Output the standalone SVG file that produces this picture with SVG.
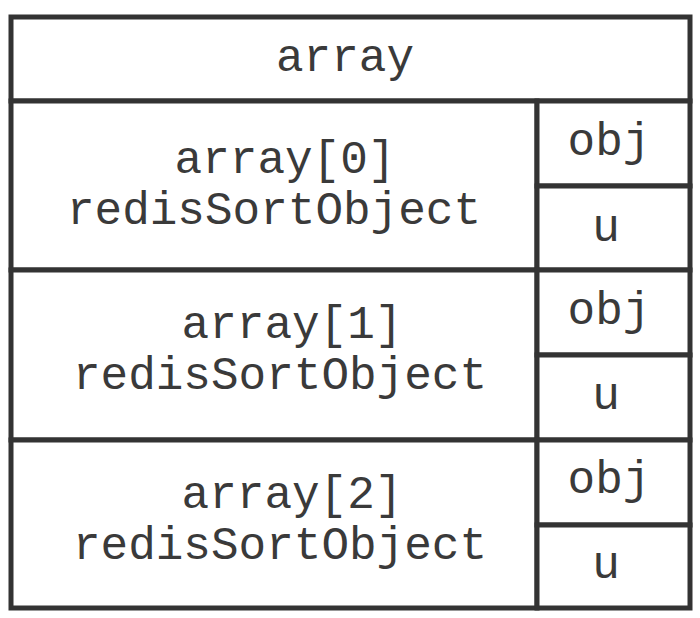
<svg xmlns="http://www.w3.org/2000/svg" width="700" height="618" viewBox="0 0 700 618">
<style>
.cell{fill:#ffffff;stroke:#333333;stroke-width:5}
.t{font-family:"Liberation Mono","Courier New",monospace;font-size:46px;fill:#3a3a3a;text-anchor:middle}
</style>
<rect x="0" y="0" width="700" height="618" fill="#ffffff"/>
<g id="header">
<rect class="cell" x="11" y="17" width="679" height="84"/>
<text class="t" x="345" y="71">array</text>
</g>
<g id="row0">
<rect class="cell" x="11" y="101" width="526" height="169"/>
<text class="t" x="285" y="173">array[0]</text>
<text class="t" x="274" y="224">redisSortObject</text>
</g>
<g id="row0-obj">
<rect class="cell" x="537" y="101" width="153" height="85"/>
<text class="t" x="609" y="155">obj</text>
</g>
<g id="row0-u">
<rect class="cell" x="537" y="186" width="153" height="84"/>
<text class="t" x="606" y="241">u</text>
</g>
<g id="row1">
<rect class="cell" x="11" y="270" width="526" height="170"/>
<text class="t" x="292" y="338">array[1]</text>
<text class="t" x="280" y="389">redisSortObject</text>
</g>
<g id="row1-obj">
<rect class="cell" x="537" y="270" width="153" height="85"/>
<text class="t" x="609" y="324">obj</text>
</g>
<g id="row1-u">
<rect class="cell" x="537" y="355" width="153" height="85"/>
<text class="t" x="606" y="409">u</text>
</g>
<g id="row2">
<rect class="cell" x="11" y="440" width="526" height="168"/>
<text class="t" x="292" y="508">array[2]</text>
<text class="t" x="280" y="559">redisSortObject</text>
</g>
<g id="row2-obj">
<rect class="cell" x="537" y="440" width="153" height="85"/>
<text class="t" x="609" y="493">obj</text>
</g>
<g id="row2-u">
<rect class="cell" x="537" y="525" width="153" height="83"/>
<text class="t" x="606" y="578">u</text>
</g>
<g id="connectors"></g>
</svg>
